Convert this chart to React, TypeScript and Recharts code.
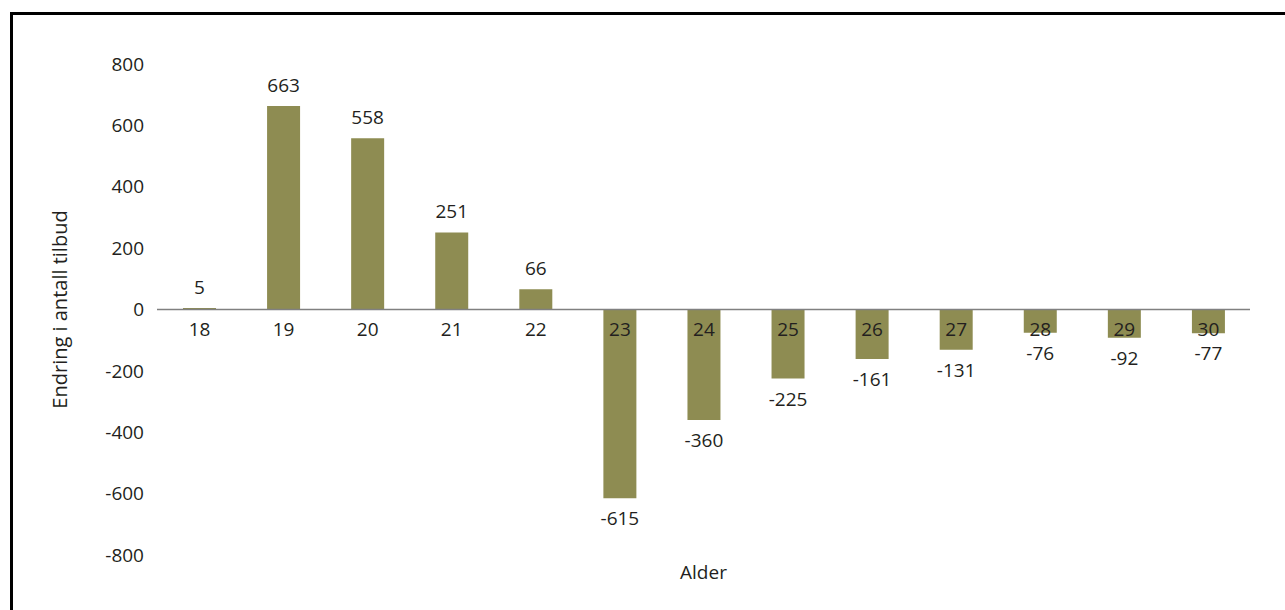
import React from 'react';
import { BarChart, Bar, XAxis, YAxis, ReferenceLine, LabelList } from 'recharts';

// Endring i antall tilbud etter alder

const ages = ['18', '19', '20', '21', '22', '23', '24', '25', '26', '27', '28', '29', '30'];
const changes = [5, 663, 558, 251, 66, -615, -360, -225, -161, -131, -76, -92, -77];
const yTicks = [-800, -600, -400, -200, 0, 200, 400, 600, 800];

const data = ages.map((age, i) => ({ age, change: changes[i] }));

const font = '"Open Sans", sans-serif';
const textColor = '#231f20';
const barColor = '#8e8c52';
const fs = 19;

// value above positive bars, below negative bars
const ValueLabel = (props: any) => {
  const { x, y, width, height, value } = props;
  const top = Math.min(y, y + height);
  const bottom = Math.max(y, y + height);
  const ty = value >= 0 ? top - 21 : bottom + 20;
  return (
    <text x={x + width / 2} y={ty} textAnchor="middle" dominantBaseline="central"
      fill={textColor} fontSize={fs} fontFamily={font}>
      {value}
    </text>
  );
};

// category label sits just under the zero line
const AgeLabel = (props: any) => {
  const { x, y, width, height, index } = props;
  const top = Math.min(y, y + height);
  const bottom = Math.max(y, y + height);
  const zero = changes[index] >= 0 ? bottom : top;
  return (
    <text x={x + width / 2} y={zero + 19} textAnchor="middle" dominantBaseline="central"
      fill={textColor} fontSize={fs} fontFamily={font}>
      {ages[index]}
    </text>
  );
};

export default function App() {
  return (
    <div style={{ position: 'absolute', left: 0, top: 0, width: 1285, height: 610, overflow: 'hidden', background: '#fff' }}>
      <div style={{ position: 'absolute', left: 10, top: 12, width: 1400, height: 700, borderTop: '3px solid #000', borderLeft: '3px solid #000' }} />
      <BarChart width={1285} height={610} data={data}
        margin={{ top: 64, right: 35, left: 10, bottom: 0 }}>
        <XAxis dataKey="age" axisLine={false} tickLine={false} tick={false} height={55}
          label={{ value: 'Alder', position: 'insideBottom', offset: 31, fill: textColor, fontSize: fs, fontFamily: font }} />
        <YAxis domain={[-800, 800]} ticks={yTicks} interval={0} width={147} axisLine={false} tickLine={false}
          tickMargin={7} tick={{ fill: textColor, fontSize: fs, fontFamily: font }}
          label={{ value: 'Endring i antall tilbud', angle: -90, position: 'insideLeft', offset: 50,
            style: { textAnchor: 'middle' }, fill: textColor, fontSize: 20, fontFamily: font }} />
        <ReferenceLine y={0} stroke="#808080" strokeWidth={1.5} />
        <Bar dataKey="change" fill={barColor} barSize={33} isAnimationActive={false}>
          <LabelList dataKey="change" content={<ValueLabel />} />
          <LabelList dataKey="age" content={<AgeLabel />} />
        </Bar>
      </BarChart>
    </div>
  );
}
